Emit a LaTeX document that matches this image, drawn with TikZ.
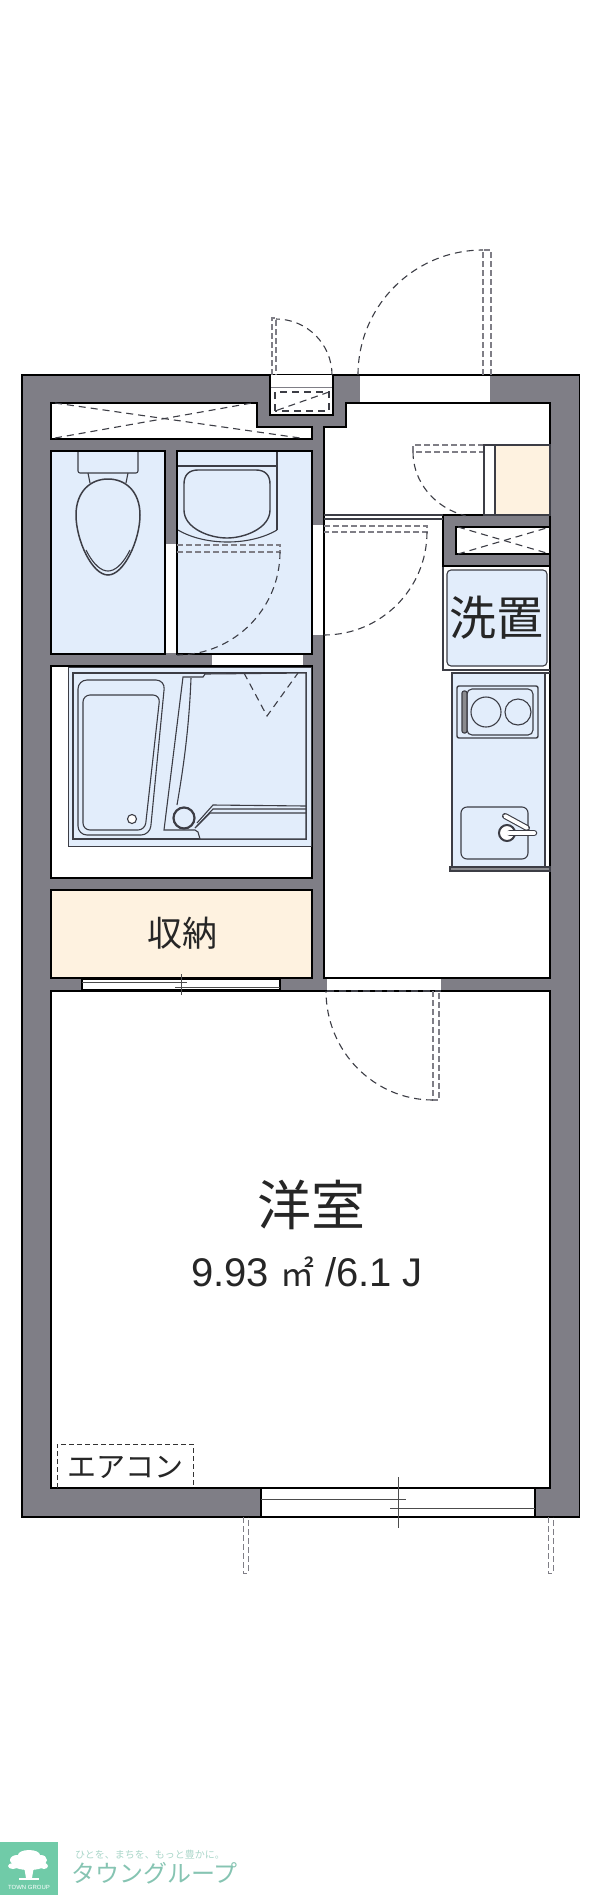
\documentclass[tikz,border=0pt]{standalone}
\usepackage{fontspec}
\setmainfont{Liberation Sans}
\newfontfamily\cjk{Noto Sans CJK JP}
\definecolor{wallgray}{HTML}{7F7E86}
\definecolor{wetblue}{HTML}{E2EDFB}
\definecolor{storebeige}{HTML}{FEF2E0}
\definecolor{linegray}{HTML}{3C3D45}
\definecolor{logogreen}{HTML}{70CBA8}
\definecolor{logotext}{HTML}{86C4B2}
\tikzset{
  wall/.style={draw=black, fill=wallgray, line width=1.8pt},
  room/.style={draw=black, fill=white, line width=1.8pt},
  wetroom/.style={draw=black, fill=wetblue, line width=1.8pt},
  storeroom/.style={draw=black, fill=storebeige, line width=1.8pt},
  opening/.style={fill=white, draw=none},
  fixture/.style={draw=linegray, line width=1.1pt},
  swing/.style={draw=linegray, line width=1.1pt, dash pattern=on 7pt off 5pt},
  leaf/.style={draw=wallgray, line width=1.1pt, dash pattern=on 6pt off 3pt},
  sash/.style={draw=black!70, line width=1pt},
  label/.style={inner sep=0pt, text=black!85}
}
\begin{document}
\begin{tikzpicture}[x=1pt, y=-1pt]
    \useasboundingbox (0,0) rectangle (600,1895);

    % Walls
    \draw[wall] (22,375) rectangle (579.5,1517);

    % Rooms
    \draw[room] (51,403) -- (257,403) -- (257,427) -- (312,427) -- (312,439) -- (51,439) -- cycle;
    \draw[wetroom] (51,451) rectangle (165,654);
    \draw[wetroom] (177,451) rectangle (312,654);
    \draw[room] (51,666) rectangle (312,878);
    \draw[storeroom] (51,890) rectangle (312,978);
    \draw[room] (51,991) rectangle (550,1488);
    \draw[room] (324,427) -- (346,427) -- (346,403) -- (550,403) -- (550,978) -- (324,978) -- cycle;
    \draw[wall] (443,515) rectangle (550,566);
    \draw[room] (456,527) rectangle (550,554);

    % Openings
    \fill[opening] (166,544) rectangle (176,653);
    \fill[opening] (313,525) rectangle (323,635);
    \fill[opening] (212,655) rectangle (303,665);
    \fill[opening] (327,979) rectangle (441,990);
    \draw[room] (82,979) rectangle (280,990);
    \fill[opening] (360,376) rectangle (490,402);
    \draw[black, line width=1pt] (359,375) -- (490,375);
    \draw[room] (270,375) -- (270,415) -- (333,415) -- (333,375);
    \draw[sash, wallgray] (271,387) -- (332,387);
    \draw[room] (261,1488) rectangle (535,1517);

    % Sashes
    \draw[sash] (82,982) -- (187,982);
    \draw[sash] (175,987) -- (280,987);
    \draw[sash] (181,974) -- (181,995);
    \draw[sash] (261,1499) -- (406,1499);
    \draw[sash] (390,1508) -- (535,1508);
    \draw[sash] (398,1477) -- (398,1528);

    % Doors
    \draw[leaf] (272,375) -- (272,318) -- (276,318) -- (276,375);
    \draw[swing] (332,375) arc (0:-90:56);
    \draw[leaf] (483,375) -- (483,250) -- (491,250) -- (491,375);
    \draw[swing] (358,375) arc (180:270:125);
    \draw[leaf] (484,445) -- (413,445) -- (413,452) -- (484,452);
    \draw[swing] (413,452) arc[start angle=180, end angle=105, x radius=71, y radius=66];
    \draw[leaf] (324,526) -- (427,526) -- (427,532) -- (324,532);
    \draw[swing] (427,532) arc (0:90:103);
    \draw[leaf] (177,545) -- (280,545) -- (280,552) -- (177,552);
    \draw[swing] (280,552) arc (0:90:103);
    \draw[leaf] (433,991) -- (433,1100) -- (439,1100) -- (439,991);
    \draw[swing] (433,1100) arc[start angle=90, end angle=180, x radius=107, y radius=109];
    \draw[swing] (327,991) -- (441,991);

    % Balcony marks
    \draw[leaf, line width=.8pt] (243,1517) -- (243,1573) -- (248,1573) -- (248,1517);
    \draw[leaf, line width=.8pt] (548,1517) -- (548,1573) -- (553,1573) -- (553,1517);

    % Shafts
    \draw[swing] (55,403) -- (300,438);
    \draw[swing] (55,438) -- (252,403);
    \draw[swing] (275,411) -- (275,392) -- (329,392) -- (329,411) -- cycle;
    \draw[swing] (329,392) -- (275,411);
    \draw[swing] (458,527) -- (550,554);
    \draw[swing] (458,554) -- (550,527);

    % Shoe cabinet
    \draw[fixture, fill=white] (484,445) rectangle (495,515);
    \draw[fixture, fill=storebeige] (495,445) rectangle (550,515);
    \draw[fixture] (324,515) -- (443,515);
    \draw[fixture] (324,519) -- (443,519);

    % Toilet
    \draw[fixture, fill=wetblue, rounded corners=2pt] (78,452) -- (78,473) -- (138,473) -- (138,452);
    \draw[fixture] (88,473) -- (90,483);
    \draw[fixture] (128,473) -- (126,483);
    \draw[fixture, line width=1.5pt, fill=wetblue] (108,479) .. controls (90,479) and (76,492) .. (76,515)
        .. controls (76,540) and (92,575) .. (108,575)
        .. controls (124,575) and (140,540) .. (140,515)
        .. controls (140,492) and (126,479) .. (108,479) -- cycle;
    \draw[fixture] (86,550) .. controls (94,566) and (102,571) .. (108,571) .. controls (114,571) and (122,566) .. (130,550);

    % Wash basin
    \draw[fixture] (178,466) -- (277,466);
    \draw[fixture] (277,452) -- (277,530);
    \draw[fixture] (178,530) .. controls (205,546) and (250,546) .. (277,530);
    \draw[fixture, line width=1.4pt] (184,484) .. controls (184,475) and (189,470) .. (198,470) -- (256,470)
        .. controls (265,470) and (270,475) .. (270,484) -- (270,510)
        .. controls (270,528) and (245,538) .. (227,538)
        .. controls (209,538) and (184,528) .. (184,510) -- cycle;

    % Bath unit
    \draw[fixture, fill=wetblue, line width=.8pt] (68,667) rectangle (311,846);
    \draw[fixture] (73,673) rectangle (306,839);
    \draw[fixture, rounded corners=9pt] (78,680) -- (165,680) -- (150,835) -- (78,835) -- cycle;
    \draw[fixture, rounded corners=7pt] (83,695) -- (160,695) -- (145,830) -- (83,830) -- cycle;
    \node[draw=linegray, fill=white, line width=1.1pt, circle, minimum size=9pt, inner sep=0pt] (tubdrain) at (132,819) {};
    \draw[fixture, fill=wetblue] (205,674) -- (203,677) -- (183,677) -- (164,830) -- (195,830) -- (198,832) -- (200,839) -- (306,839) -- (306,673) -- cycle;
    \draw[fixture] (191,678) .. controls (189,730) and (183,770) .. (177,805);
    \draw[fixture] (197,823) -- (213,805) -- (306,806);
    \draw[fixture] (197,826) -- (213,809) -- (306,809);
    \draw[fixture] (195,828) -- (210,813) -- (306,813);
    \node[draw=linegray, fill=wetblue, line width=2.2pt, circle, minimum size=21pt, inner sep=0pt] (bathdrain) at (184,818) {};
    \draw[swing] (244,673) -- (267,716) -- (298,673);

    % Washing machine pan
    \draw[fixture, fill=white] (443,567) -- (443,670) -- (550,670);
    \draw[fixture, fill=wetblue, rounded corners=4pt] (447,570) rectangle (547,666);

    % Kitchen
    \draw[fixture, fill=wetblue] (452,673) rectangle (545,867);
    \draw[fixture] (545,673) -- (550,673);
    \draw[fixture, fill=linegray!60] (450,867) rectangle (550,871);
    \draw[fixture, line width=1.4pt, rounded corners=2pt] (457,686) rectangle (538,738);
    \draw[fixture, rounded corners=5pt] (467,689) rectangle (533,735);
    \draw[fixture, fill=linegray!60, rounded corners=2pt] (462,691) rectangle (467,733);
    \node[draw=linegray, line width=1.1pt, circle, minimum size=30pt, inner sep=0pt] (hobleft) at (486,712) {};
    \node[draw=linegray, line width=1.1pt, circle, minimum size=26pt, inner sep=0pt] (hobright) at (518,712) {};
    \draw[fixture, rounded corners=6pt] (461,807) rectangle (528,859);
    \draw[linegray, line width=6pt, line cap=round] (505,816) -- (527,828);
    \draw[white, line width=3.8pt, line cap=round] (505,816) -- (527,828);
    \node[draw=linegray, fill=white, line width=2pt, circle, minimum size=16pt, inner sep=0pt] (faucet) at (507,833) {};
    \draw[linegray, line width=6.5pt, line cap=round] (510,833) -- (534,833);
    \draw[white, line width=4pt, line cap=round] (508,833) -- (534,833);

    % Air conditioner
    \draw[draw=black!80, line width=.9pt, dash pattern=on 5pt off 3pt] (57,1488) -- (57,1444) -- (193,1444) -- (193,1488);

    % Text
    \node[label, font=\cjk\fontsize{47}{47}\selectfont] (washlabel) at (496,618) {洗置};
    \node[label, font=\cjk\fontsize{35}{35}\selectfont] (storelabel) at (182,933) {収納};
    \node[label, font=\cjk\fontsize{54}{54}\selectfont] (roomlabel) at (311,1205) {洋室};
    \node[label, font=\fontsize{40}{40}\selectfont] (arealabel) at (307,1272) {9.93 {\cjk\fontsize{34}{34}\selectfont ㎡} /6.1 J};
    \node[label, font=\cjk\fontsize{29}{29}\selectfont] (aclabel) at (125,1467) {エアコン};

    % Logo
    \fill[logogreen] (0,1842) rectangle (58,1895);
    \fill[white] (29,1855) ellipse (11 and 5);
    \fill[white] (17,1860) ellipse (7 and 5);
    \fill[white] (41,1860) ellipse (6 and 5);
    \fill[white] (13,1866) ellipse (5 and 3);
    \fill[white] (44,1866) ellipse (4 and 3);
    \fill[white] (29,1864) ellipse (17 and 6);
    \fill[white] (24,1866) -- (34,1866) -- (32,1878) -- (26,1878) -- cycle;
    \fill[white] (19,1878) rectangle (39,1879.5);
    \node[inner sep=0pt, text=white, font=\fontsize{6}{6}\selectfont] (logoname) at (29,1887) {TOWN GROUP};
    \node[inner sep=0pt, text=logotext!70, anchor=west, font=\cjk\fontsize{10}{10}\selectfont] (logotag) at (75,1855) {ひとを、まちを、もっと豊かに。};
    \node[inner sep=0pt, text=logotext, anchor=west, font=\cjk\fontsize{24}{24}\selectfont] (logotitle) at (71,1873) {タウングループ};
\end{tikzpicture}
\end{document}
